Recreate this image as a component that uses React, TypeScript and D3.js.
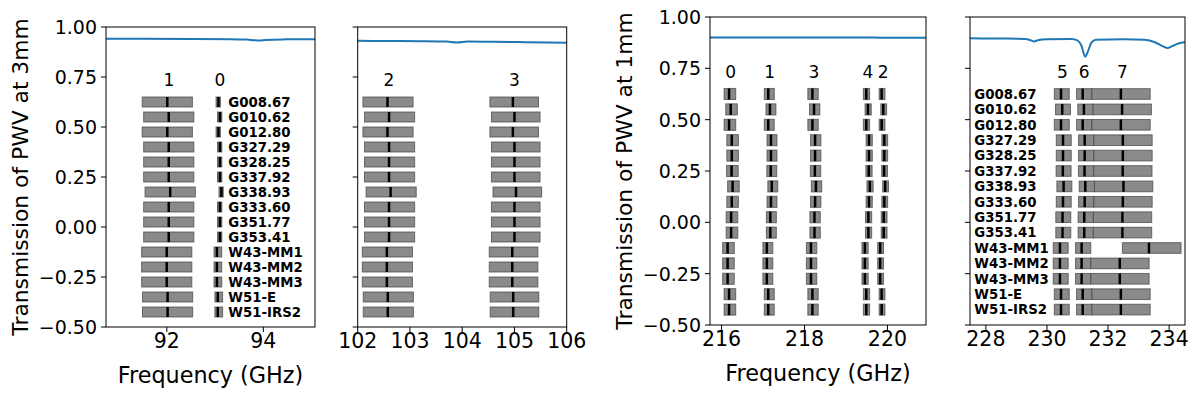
import React, { useEffect, useRef } from 'react';
import * as d3 from 'd3';

const sources = [
  'G008.67', 'G010.62', 'G012.80', 'G327.29', 'G328.25', 'G337.92', 'G338.93', 'G333.60',
  'G351.77', 'G353.41', 'W43-MM1', 'W43-MM2', 'W43-MM3', 'W51-E', 'W51-IRS2',
];

// frequency offset of each source's windows (GHz)
const shift3mm = [0, 0.03, 0, 0.03, 0.03, 0.03, 0.06, 0.03, 0.03, 0.03, -0.012, -0.012, -0.012, 0.006, 0.006];
const shift1mm = [0, 0.04, 0, 0.065, 0.065, 0.06, 0.085, 0.065, 0.05, 0.05, -0.035, -0.035, -0.035, 0, 0];

// spectral windows: [label, low, high, line] (GHz) for the first source
const spw3mmLow: [string, number, number, number][] = [
  ['1', 91.49, 92.53, 92.01],
  ['0', 93.02, 93.11, 93.07],
];
const spw3mmHigh: [string, number, number, number][] = [
  ['2', 102.1, 103.06, 102.57],
  ['3', 104.53, 105.46, 104.97],
];
const spw1mmLow: [string, number, number, number][] = [
  ['0', 216.06, 216.34, 216.18],
  ['1', 217.03, 217.27, 217.125],
  ['3', 218.08, 218.33, 218.19],
  ['4', 219.42, 219.57, 219.49],
  ['2', 219.8, 219.94, 219.86],
];
const spw1mmHigh: [string, number, number, number][] = [
  ['5', 230.24, 230.73, 230.46],
  ['6', 230.97, 231.47, 231.17],
  ['7', 231.47, 233.38, 232.42],
];

// windows tuned differently for some sources
const wideSpw0Sources = ['W43-MM1', 'W43-MM2', 'W43-MM3', 'W51-E', 'W51-IRS2'];
const wideSpw0 = [92.99, 93.15, 93.05];
const mm1Spw7 = [232.47, 234.39, 233.34];

// atmospheric transmission
const trans3mmLowFreq = [90.74, 91.5, 92.5, 93.3, 93.65, 93.8, 93.9, 94.05, 94.4, 95.07];
const trans3mmLowVal = [0.941, 0.941, 0.94, 0.939, 0.937, 0.934, 0.932, 0.935, 0.938, 0.939];
const trans3mmHighFreq = [102, 102.6, 103.2, 103.7, 103.9, 104.1, 104.6, 105.2, 106];
const trans3mmHighVal = [0.931, 0.93, 0.929, 0.927, 0.922, 0.927, 0.926, 0.924, 0.921];
const trans1mmLowFreq = [215.72, 217, 218.3, 219.5, 220.3, 220.93];
const trans1mmLowVal = [0.9, 0.9, 0.9, 0.9, 0.899, 0.899];
const trans1mmHighFreq = [227.48, 228.5, 229.3, 229.48, 229.58, 229.7, 230.0, 230.8, 231.0, 231.13, 231.25, 231.33,
  231.45, 231.6, 232.5, 233.2, 233.55, 233.8, 233.95, 234.1, 234.3, 234.52];
const trans1mmHighVal = [0.896, 0.895, 0.893, 0.886, 0.881, 0.887, 0.892, 0.893, 0.886, 0.86, 0.807, 0.828,
  0.874, 0.889, 0.892, 0.889, 0.876, 0.857, 0.849, 0.858, 0.871, 0.877];

const yTicks = [-0.5, -0.25, 0, 0.25, 0.5, 0.75, 1.0];

const panels = [
  { left: 106, right: 315, top: 27, bottom: 327, domain: [90.74, 95.07], xTicks: [92, 94], spws: spw3mmLow, barH: 0.05,
    shift: shift3mm, tf: trans3mmLowFreq, tv: trans3mmLowVal, yLabel: 'Transmission of PWV at 3mm', nameX: 93.275, xLabel: true },
  { left: 357.7, right: 566.7, top: 27, bottom: 327, domain: [102, 106], xTicks: [102, 103, 104, 105, 106], spws: spw3mmHigh, barH: 0.05,
    shift: shift3mm, tf: trans3mmHighFreq, tv: trans3mmHighVal, yLabel: null, nameX: null, xLabel: false },
  { left: 710, right: 926, top: 17, bottom: 325, domain: [215.72, 220.93], xTicks: [216, 218, 220], spws: spw1mmLow, barH: 0.054,
    shift: shift1mm, tf: trans1mmLowFreq, tv: trans1mmLowVal, yLabel: 'Transmission of PWV at 1mm', nameX: null, xLabel: true },
  { left: 970, right: 1185, top: 17, bottom: 325, domain: [227.48, 234.52], xTicks: [228, 230, 232, 234], spws: spw1mmHigh, barH: 0.052,
    shift: shift1mm, tf: trans1mmHighFreq, tv: trans1mmHighVal, yLabel: null, nameX: 227.62, xLabel: false },
];

const App = () => {
  const svgRef = useRef<SVGSVGElement>(null);

  useEffect(() => {
    const svg = d3.select(svgRef.current);
    svg.selectAll('*').remove();
    const font = 'DejaVu Sans, sans-serif';

    panels.forEach((p, pi) => {
      const x = d3.scaleLinear().domain(p.domain).range([p.left, p.right]);
      const y = d3.scaleLinear().domain([-0.5, 1.0]).range([p.bottom, p.top]);
      const row = d3.scaleLinear().domain([0, sources.length - 1]).range([0.625, -0.425]);
      const barH = y(0) - y(p.barH);
      const g = svg.append('g');

      // transmission curve
      const line = d3.line<number>()
        .x((d) => x(d))
        .y((_, i) => y(p.tv[i]))
        .curve(d3.curveMonotoneX);
      g.append('path')
        .attr('d', line(p.tf))
        .attr('fill', 'none')
        .attr('stroke', '#1f77b4')
        .attr('stroke-width', 2);

      // windows per source
      sources.forEach((src, si) => {
        const cy = y(row(si));
        const sh = p.shift[si];
        p.spws.forEach(([label, lo, hi, ln]) => {
          let a = lo + sh, b = hi + sh, c = ln + sh;
          if (pi === 0 && label === '0' && wideSpw0Sources.includes(src)) {
            a = wideSpw0[0] + sh; b = wideSpw0[1] + sh; c = wideSpw0[2] + sh;
          }
          if (pi === 3 && label === '7' && src === 'W43-MM1') {
            a = mm1Spw7[0]; b = mm1Spw7[1]; c = mm1Spw7[2];
          }
          g.append('rect')
            .attr('x', x(a))
            .attr('y', cy - barH / 2)
            .attr('width', x(b) - x(a))
            .attr('height', barH)
            .attr('fill', '#808080')
            .attr('fill-opacity', 0.92)
            .attr('stroke', '#4a4a4a')
            .attr('stroke-opacity', 0.75)
            .attr('stroke-width', 1);
          g.append('line')
            .attr('x1', x(c)).attr('x2', x(c))
            .attr('y1', cy - barH / 2).attr('y2', cy + barH / 2)
            .attr('stroke', '#000')
            .attr('stroke-width', 2.5);
        });
        if (p.nameX !== null) {
          g.append('text')
            .attr('x', x(p.nameX))
            .attr('y', cy)
            .attr('dy', '0.36em')
            .attr('font-family', font)
            .attr('font-weight', 'bold')
            .attr('font-size', 13.3)
            .text(src);
        }
      });

      // window labels
      p.spws.forEach(([label, , , ln]) => {
        g.append('text')
          .attr('x', x(ln + p.shift[0]) + 1.5)
          .attr('y', y(0.705))
          .attr('text-anchor', 'middle')
          .attr('font-family', font)
          .attr('font-size', 17)
          .text(label);
      });

      // frame
      g.append('rect')
        .attr('x', p.left).attr('y', p.top)
        .attr('width', p.right - p.left).attr('height', p.bottom - p.top)
        .attr('fill', 'none')
        .attr('stroke', '#000')
        .attr('stroke-width', 1);

      // y ticks
      yTicks.forEach((t) => {
        g.append('line')
          .attr('x1', p.left - 5).attr('x2', p.left)
          .attr('y1', y(t)).attr('y2', y(t))
          .attr('stroke', '#000');
        if (p.yLabel) {
          g.append('text')
            .attr('x', p.left - 9)
            .attr('y', y(t))
            .attr('dy', '0.36em')
            .attr('text-anchor', 'end')
            .attr('font-family', font)
            .attr('font-size', 19)
            .text(d3.format('.2f')(t));
        }
      });

      // x ticks
      p.xTicks.forEach((t) => {
        g.append('line')
          .attr('x1', x(t)).attr('x2', x(t))
          .attr('y1', p.bottom).attr('y2', p.bottom + 5)
          .attr('stroke', '#000');
        g.append('text')
          .attr('x', x(t))
          .attr('y', p.bottom + 21)
          .attr('text-anchor', 'middle')
          .attr('font-family', font)
          .attr('font-size', 20.5)
          .text(t);
      });

      if (p.xLabel) {
        g.append('text')
          .attr('x', (p.left + p.right) / 2)
          .attr('y', p.bottom + 56)
          .attr('text-anchor', 'middle')
          .attr('font-family', font)
          .attr('font-size', 22.3)
          .text('Frequency (GHz)');
      }
      if (p.yLabel) {
        g.append('text')
          .attr('transform', `translate(${p.left - 78},${(p.top + p.bottom) / 2}) rotate(-90)`)
          .attr('text-anchor', 'middle')
          .attr('font-family', font)
          .attr('font-size', 21.8)
          .text(p.yLabel);
      }
    });
  }, []);

  return (
    <svg
      ref={svgRef}
      width={1200}
      height={393}
      style={{ position: 'absolute', left: 0, top: 0, background: '#fff' }}
    />
  );
};

export default App;
